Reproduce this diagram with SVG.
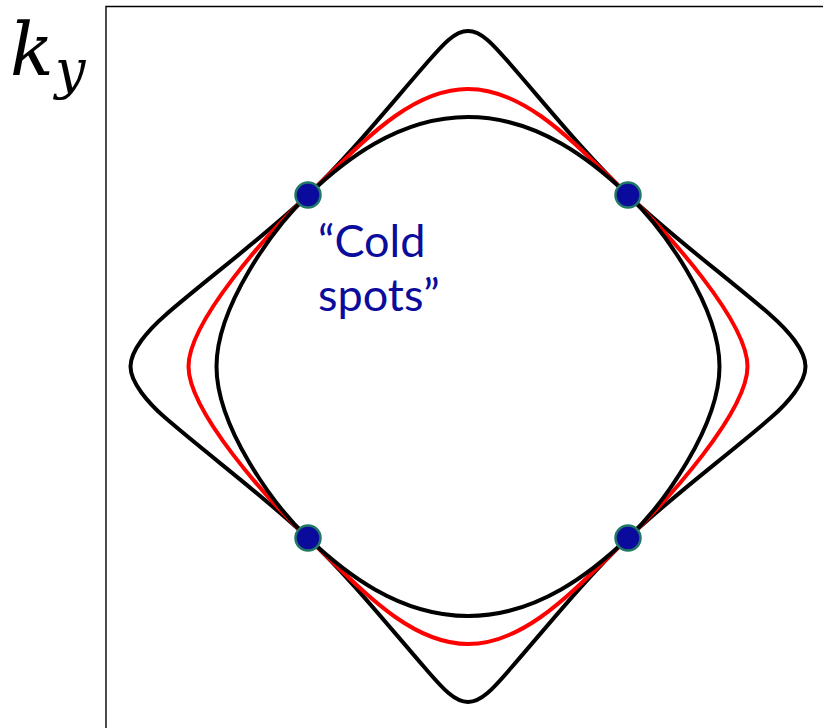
<svg xmlns="http://www.w3.org/2000/svg" width="824" height="728" viewBox="0 0 824 728">
<style>
.frame{fill:none;stroke:#000;stroke-width:1.4}
.curve{fill:none;stroke-width:4;stroke-linejoin:round}
.blk{stroke:#000}
.red{stroke:#FF0000}
.dot{fill:#0A0A9C;stroke:#217867;stroke-width:2.5}
.lbl{font-family:Lato,"Open Sans","Liberation Sans",sans-serif;font-size:45px;fill:#0C0C9C}
.math{font-family:"DejaVu Serif","Liberation Serif",serif;font-style:italic;fill:#000}
</style>
<g id="axes">
<path class="frame" d="M106,728 V6.5 H823"/>
<text class="math" x="10" y="75" font-size="72">k</text>
<text class="math" x="55" y="88" font-size="54">y</text>
</g>
<g id="curves">
<path id="outer" class="curve blk" d="M468,31 C454,31 442,45.5 425,65 C387,108.7 350,155 308,195 C263,237.75 210,276.4 165,315.4 C148,330.2 130.5,350.5 130.5,366.5 C130.5,382.5 148,402.8 165,417.6 C210,456.6 263,495.25 308,538 C350,578 387,624.3 425,668 C442,687.5 454,702 468,702 C482,702 494,687.5 511,668 C549,624.3 586,578 628,538 C673,495.25 726,456.6 771,417.6 C788,402.8 805.5,382.5 805.5,366.5 C805.5,350.5 788,330.2 771,315.4 C726,276.4 673,237.75 628,195 C586,155 549,108.7 511,65 C494,45.5 482,31 468,31 Z"/>
<path id="middle" class="curve red" d="M468,89 C408,89 358,147.5 308,195 C268,233 188.5,321.5 188.5,366.5 C188.5,411.5 268,500 308,538 C358,585.5 408,644 468,644 C528,644 578,585.5 628,538 C668,500 747.5,411.5 747.5,366.5 C747.5,321.5 668,233 628,195 C578,147.5 528,89 468,89 Z"/>
<path id="inner" class="curve blk" d="M468,117 C398,117 343,161.75 308,195 C273,228.25 216.5,306.5 216.5,366.5 C216.5,426.5 273,504.75 308,538 C343,571.25 398,616 468,616 C538,616 593,571.25 628,538 C663,504.75 719.5,426.5 719.5,366.5 C719.5,306.5 663,228.25 628,195 C593,161.75 538,117 468,117 Z"/>
</g>
<g id="cold-spots">
<circle class="dot" cx="308" cy="195" r="12.5"/>
<circle class="dot" cx="628" cy="195" r="12.5"/>
<circle class="dot" cx="308" cy="538" r="12.5"/>
<circle class="dot" cx="628" cy="538" r="12.5"/>
</g>
<g id="label">
<text class="lbl" x="318" y="257">“Cold</text>
<text class="lbl" x="318" y="311">spots”</text>
</g>
</svg>
